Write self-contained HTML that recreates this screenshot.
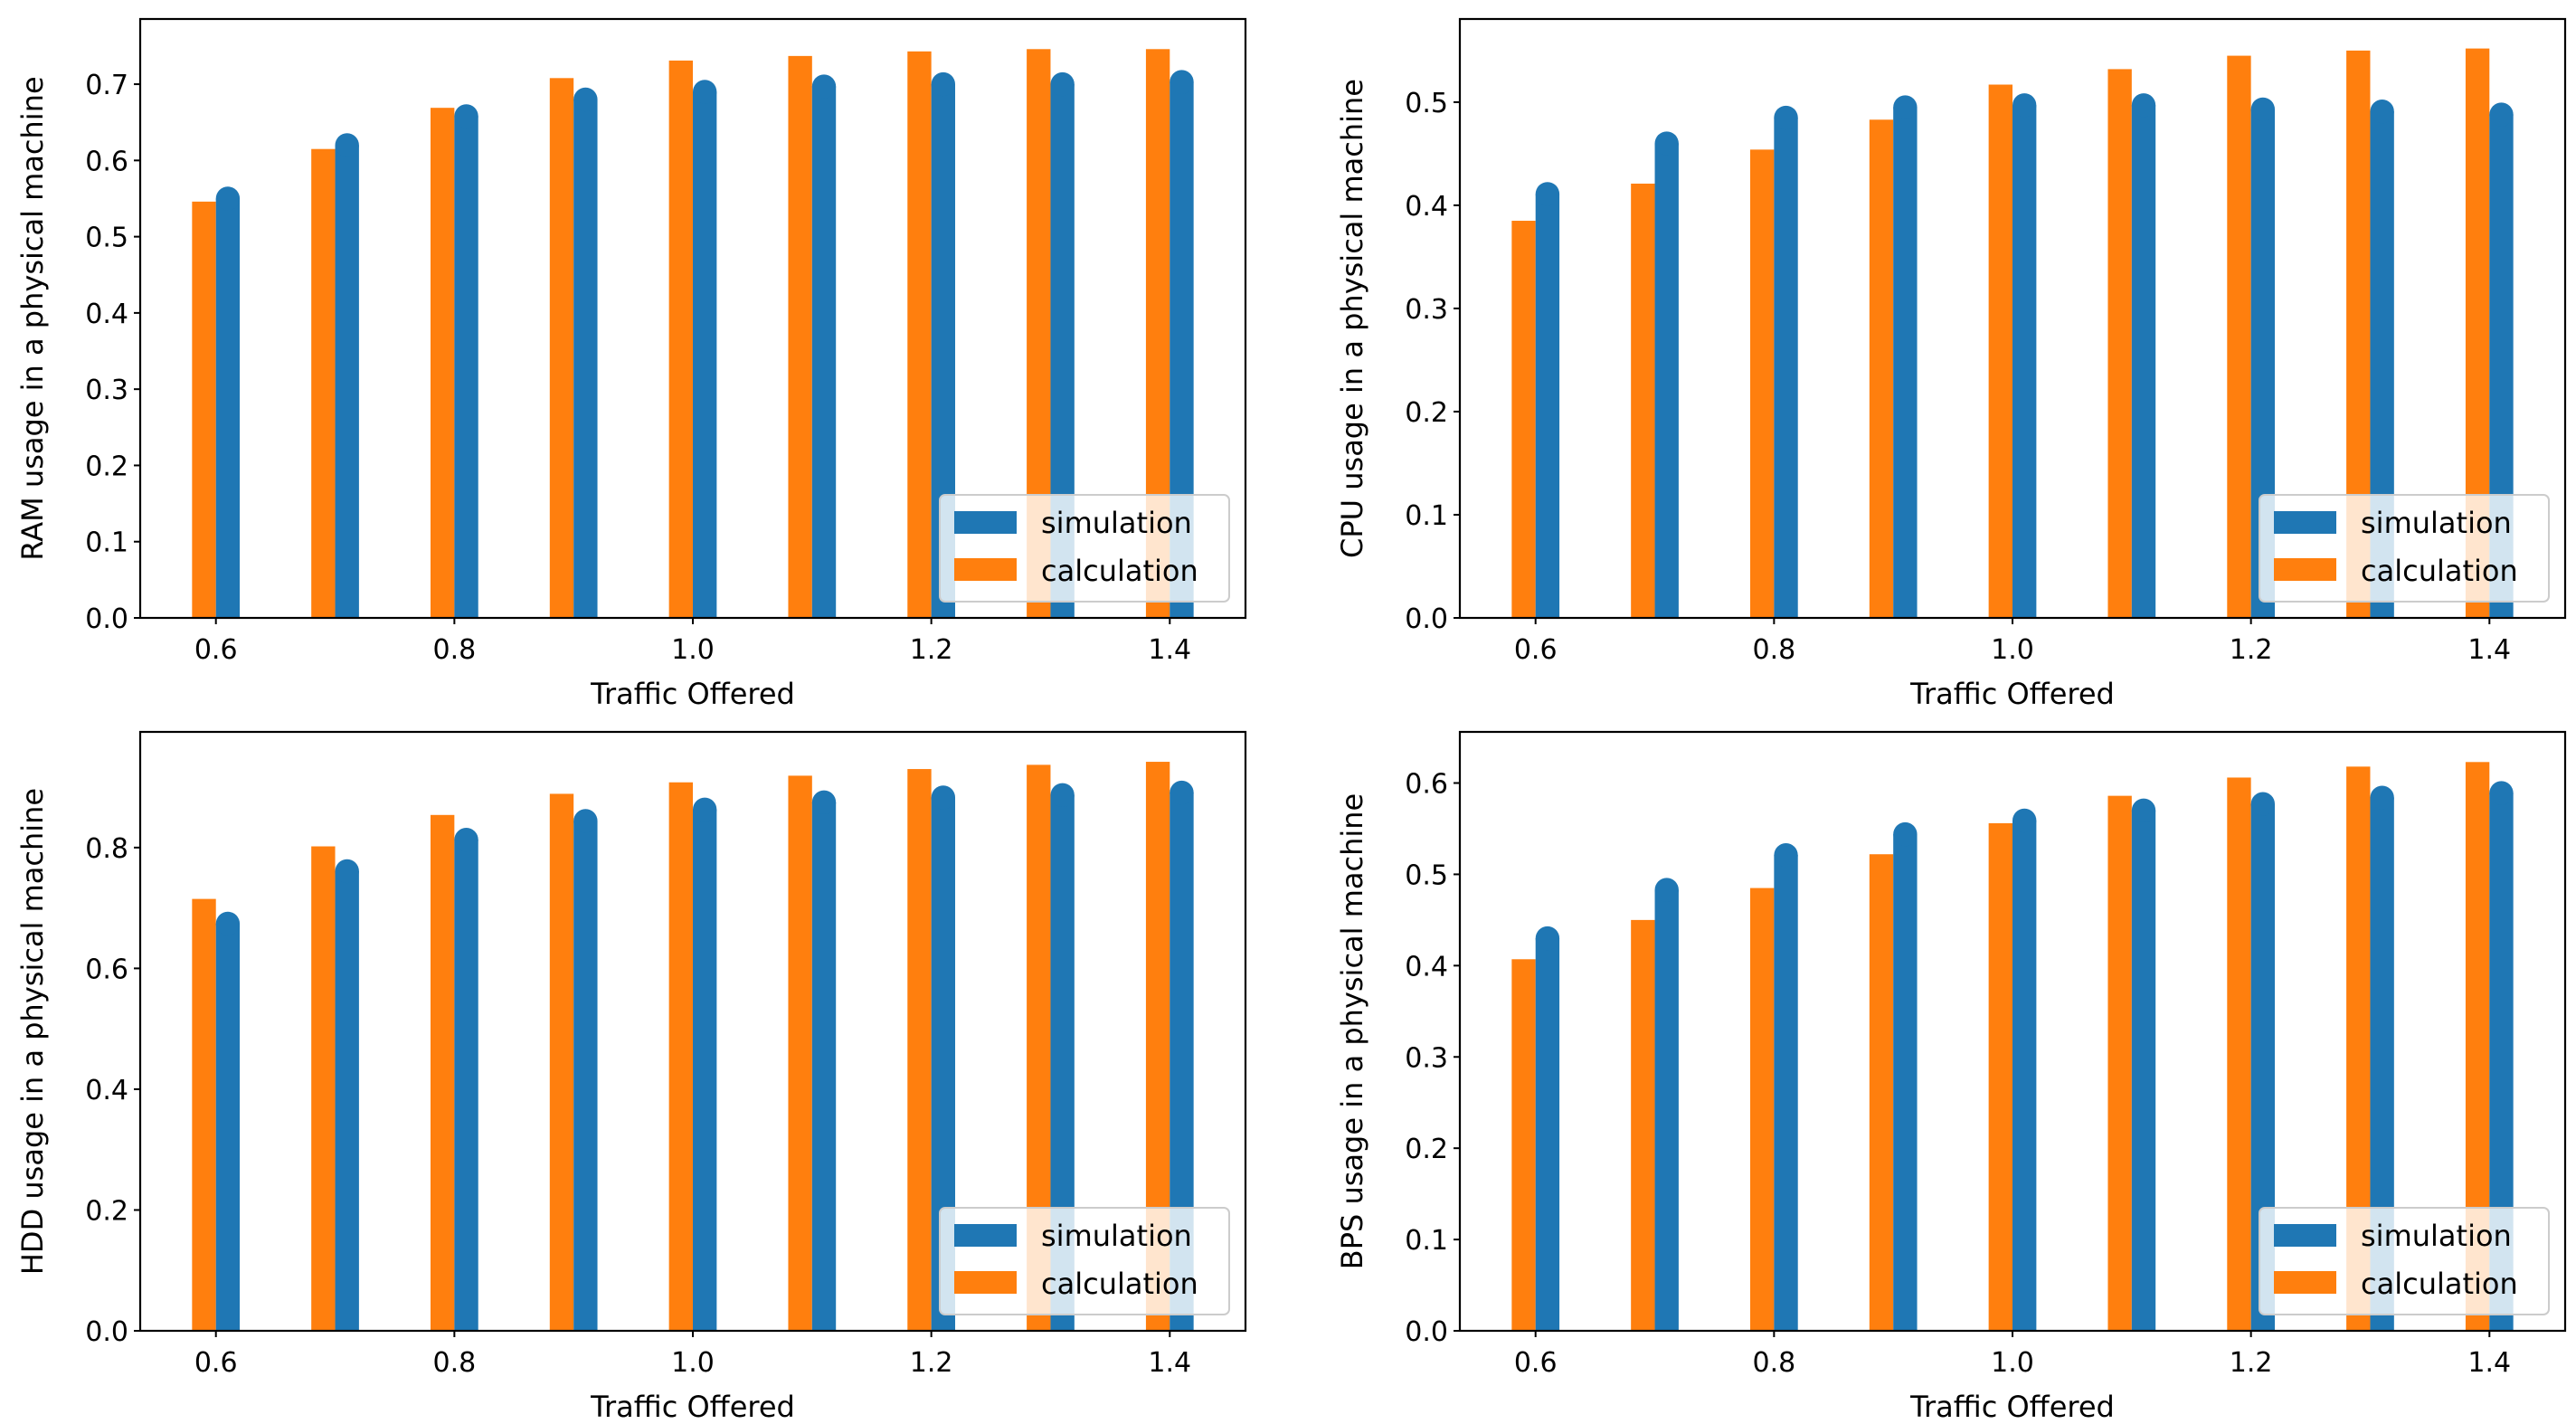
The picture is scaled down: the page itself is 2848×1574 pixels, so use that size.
<!DOCTYPE html>
<html><head><meta charset="utf-8"><style>
html,body{margin:0;padding:0;background:#fff;}
svg{display:block;font-family:"DejaVu Sans","Liberation Sans",sans-serif;}
</style></head><body>
<svg id="fig" width="2848" height="1574" viewBox="0 0 2848 1574"></svg>
<script>
const categories = [0.6, 0.7, 0.8, 0.9, 1.0, 1.1, 1.2, 1.3, 1.4];
const xTickValues = [0.6, 0.8, 1.0, 1.2, 1.4];
const xTickLabels = ["0.6", "0.8", "1.0", "1.2", "1.4"];
const ramSim = [0.55, 0.62, 0.658, 0.68, 0.69, 0.697, 0.70, 0.70, 0.703];
const ramCalc = [0.546, 0.615, 0.669, 0.708, 0.731, 0.737, 0.743, 0.746, 0.746];
const ramTicks = [0.0, 0.1, 0.2, 0.3, 0.4, 0.5, 0.6, 0.7];
const cpuSim = [0.411, 0.46, 0.485, 0.495, 0.497, 0.497, 0.493, 0.491, 0.488];
const cpuCalc = [0.385, 0.421, 0.454, 0.483, 0.517, 0.532, 0.545, 0.550, 0.552];
const cpuTicks = [0.0, 0.1, 0.2, 0.3, 0.4, 0.5];
const hddSim = [0.674, 0.761, 0.813, 0.844, 0.863, 0.875, 0.883, 0.887, 0.891];
const hddCalc = [0.715, 0.802, 0.854, 0.889, 0.908, 0.919, 0.930, 0.937, 0.942];
const hddTicks = [0.0, 0.2, 0.4, 0.6, 0.8];
const bpsSim = [0.43, 0.483, 0.521, 0.544, 0.559, 0.57, 0.577, 0.584, 0.589];
const bpsCalc = [0.407, 0.450, 0.485, 0.522, 0.556, 0.586, 0.606, 0.618, 0.623];
const bpsTicks = [0.0, 0.1, 0.2, 0.3, 0.4, 0.5, 0.6];

const NS = "http://www.w3.org/2000/svg";
const svg = document.getElementById("fig");
function mk(tag, attrs, parent) {
  const e = document.createElementNS(NS, tag);
  for (const k in attrs) e.setAttribute(k, attrs[k]);
  (parent || svg).appendChild(e);
  return e;
}
const BLUE = "#1f77b4", ORANGE = "#ff7f0e";
const XMIN = 0.5365, XMAX = 1.4635, BW = 0.02;

function panel(cfg) {
  const g = mk("g", {});
  
  
  const L = cfg.x0, R = cfg.x1, T = cfg.y0, B = cfg.y1;
  const xs = v => L + (v - XMIN) / (XMAX - XMIN) * (R - L);
  const ys = v => B - v / cfg.ymax * (B - T);
  categories.forEach((c, i) => {
    const r = mk("rect", {x: xs(c - BW), y: ys(cfg.calc[i]), width: xs(c) - xs(c - BW), height: B - ys(cfg.calc[i]), fill: ORANGE}, g);
    
    
    const w = xs(c + BW) - xs(c);
    const sb = mk("rect", {x: xs(c), y: ys(cfg.sim[i]), width: w, height: B - ys(cfg.sim[i]), fill: BLUE}, g);
    
    
    const cap = mk("circle", {cx: xs(c) + w / 2, cy: ys(cfg.sim[i]), r: w / 2, fill: BLUE}, g);
    
    
  });
  const fr = mk("rect", {x: L, y: T, width: R - L, height: B - T, fill: "none", stroke: "#000", "stroke-width": 2.2}, g);
  
  
  xTickValues.forEach((v, i) => {
    mk("line", {x1: xs(v), x2: xs(v), y1: B, y2: B + 7, stroke: "#000", "stroke-width": 2}, g);
    const t = mk("text", {x: xs(v), y: B + 45, "font-size": 30, "text-anchor": "middle", fill: "#000"}, g);
    t.textContent = xTickLabels[i];
    
    
  });
  cfg.ticks.forEach(v => {
    mk("line", {x1: L - 7, x2: L, y1: ys(v), y2: ys(v), stroke: "#000", "stroke-width": 2}, g);
    const t = mk("text", {x: L - 13, y: ys(v) + 11, "font-size": 30, "text-anchor": "end", fill: "#000"}, g);
    t.textContent = v.toFixed(1);
    
    
  });
  const xl = mk("text", {x: (L + R) / 2, y: B + 95, "font-size": 32, "text-anchor": "middle", fill: "#000"}, g);
  xl.textContent = "Traffic Offered";
  
  
  const yx = L - 108, yy = (T + B) / 2;
  const yl = mk("text", {x: yx, y: yy, "font-size": 32, "text-anchor": "middle", fill: "#000", transform: `rotate(-90 ${yx} ${yy})`}, g);
  yl.textContent = cfg.ylabel;
  
  
  const lg = mk("g", {}, g);
  
  
  const lx = R - 18 - 320, ly = B - 18 - 118;
  mk("rect", {x: lx, y: ly, width: 320, height: 118, rx: 6, fill: "rgba(255,255,255,0.8)", stroke: "#ccc", "stroke-width": 2}, lg);
  const e1 = mk("rect", {x: lx + 16, y: ly + 18, width: 69, height: 25, fill: BLUE}, lg);
  
  
  const t1 = mk("text", {x: lx + 112, y: ly + 42, "font-size": 32, fill: "#000"}, lg);
  t1.textContent = "simulation";
  
  
  const e2 = mk("rect", {x: lx + 16, y: ly + 70, width: 69, height: 25, fill: ORANGE}, lg);
  
  
  const t2 = mk("text", {x: lx + 112, y: ly + 95, "font-size": 32, fill: "#000"}, lg);
  t2.textContent = "calculation";
  
  
}
panel({name: "ram-chart", x0: 155, x1: 1377, y0: 21, y1: 683, ymax: 0.7855, sim: ramSim, calc: ramCalc, ticks: ramTicks, ylabel: "RAM usage in a physical machine"});
panel({name: "cpu-chart", x0: 1614, x1: 2836, y0: 21, y1: 683, ymax: 0.5806, sim: cpuSim, calc: cpuCalc, ticks: cpuTicks, ylabel: "CPU usage in a physical machine"});
panel({name: "hdd-chart", x0: 155, x1: 1377, y0: 809, y1: 1471, ymax: 0.9915, sim: hddSim, calc: hddCalc, ticks: hddTicks, ylabel: "HDD usage in a physical machine"});
panel({name: "bps-chart", x0: 1614, x1: 2836, y0: 809, y1: 1471, ymax: 0.656, sim: bpsSim, calc: bpsCalc, ticks: bpsTicks, ylabel: "BPS usage in a physical machine"});
</script>
</body></html>
